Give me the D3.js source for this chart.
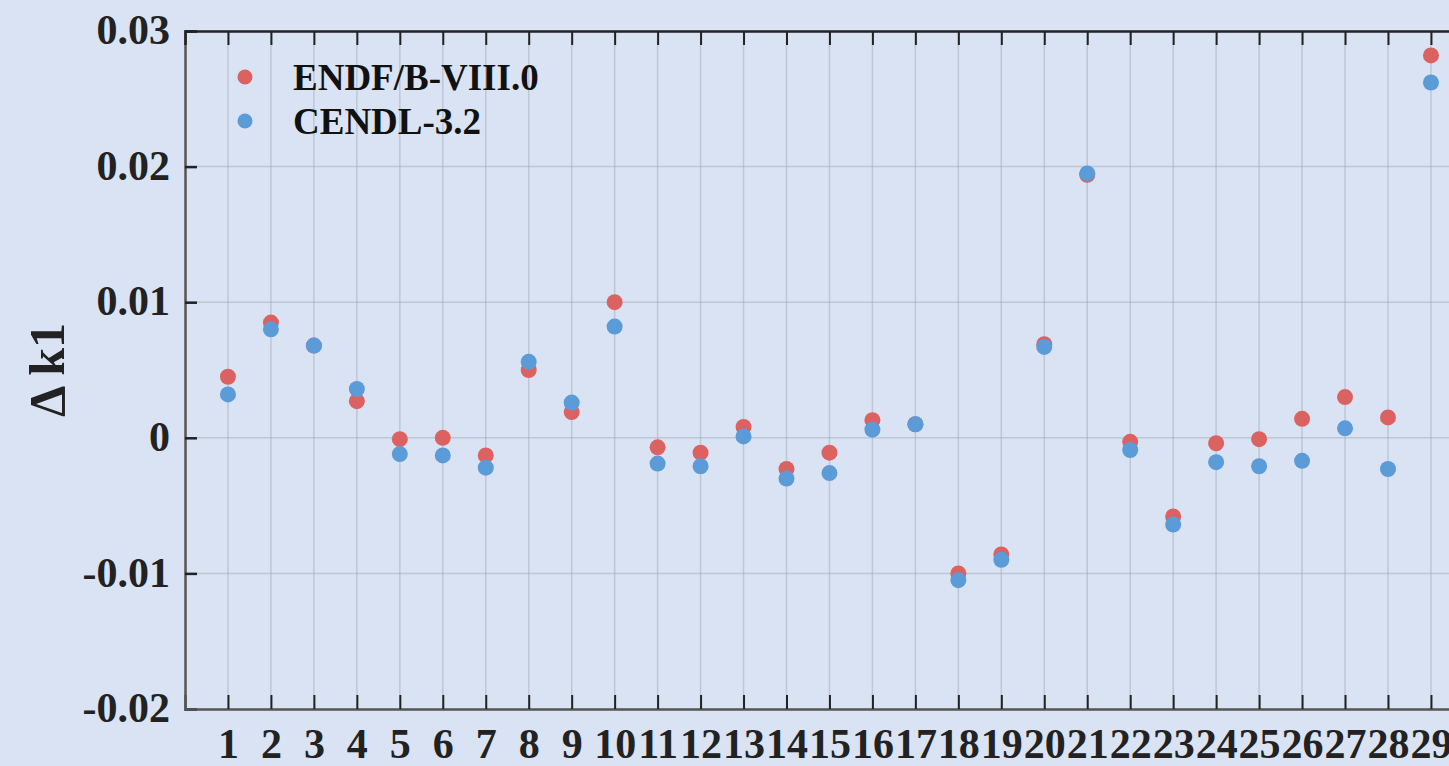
<!DOCTYPE html>
<html><head><meta charset="utf-8">
<script src="https://cdn.jsdelivr.net/npm/d3@7"></script>
<style>
html,body{margin:0;padding:0;background:#DAE3F3;overflow:hidden;}
svg{display:block;}
svg text{font-family:"Liberation Serif","Times New Roman",serif;font-weight:bold;}
</style></head><body>
<svg id="chart" width="1449" height="766"></svg>
<script>
const categories = d3.range(1, 30);
const endf = [0.0045,0.0085,0.0068,0.0027,-0.0001,0.0000,-0.0013,0.0050,0.0019,0.0100,
  -0.0007,-0.0011,0.0008,-0.0023,-0.0011,0.0013,0.0010,-0.0100,-0.0086,0.0069,
  0.0194,-0.0003,-0.0058,-0.0004,-0.0001,0.0014,0.0030,0.0015,0.0282];
const cendl = [0.0032,0.0080,0.0068,0.0036,-0.0012,-0.0013,-0.0022,0.0056,0.0026,0.0082,
  -0.0019,-0.0021,0.0001,-0.0030,-0.0026,0.0006,0.0010,-0.0105,-0.0090,0.0067,
  0.0195,-0.0009,-0.0064,-0.0018,-0.0021,-0.0017,0.0007,-0.0023,0.0262];
const yTicks = [-0.02,-0.01,0,0.01,0.02,0.03];
const yTickLabels = ["-0.02","-0.01","0","0.01","0.02","0.03"];
const seriesNames = ["ENDF/B-VIII.0","CENDL-3.2"];
const colors = ["#DC6262","#5B9BD8"];

const svg = d3.select("#chart");
const L = 185, T = 31, B = 709;
const step = 42.964;
const x = d3.scaleLinear().domain([0, 30]).range([L, L + 30*step]);
const y = d3.scaleLinear().domain([-0.02, 0.03]).range([B, T]);
const R = x(30);
const FONT = '"Liberation Serif","Times New Roman",serif';

// grid
const g = svg.append("g");
g.selectAll(".vg").data(categories).join("line")
  .attr("x1", d=>x(d)).attr("x2", d=>x(d)).attr("y1", T).attr("y2", B)
  .attr("stroke", "#9aa3b3").attr("stroke-opacity", 0.45).attr("stroke-width", 1.5);
g.selectAll(".hg").data(yTicks.slice(1,-1)).join("line")
  .attr("x1", L).attr("x2", R).attr("y1", d=>y(d)).attr("y2", d=>y(d))
  .attr("stroke", "#9aa3b3").attr("stroke-opacity", 0.45).attr("stroke-width", 1.5);

// axes
const fs = 42;
const yAxis = d3.axisLeft(y).tickValues(yTicks).tickFormat((d,i)=>yTickLabels[i]).tickSize(-12).tickPadding(15);
const ya = svg.append("g").attr("transform", `translate(${L},0)`).call(yAxis)
  .attr("font-family", FONT).attr("font-weight", "bold");
ya.select(".domain").attr("stroke", "#555").attr("stroke-width", 2.5);
ya.selectAll(".tick line").attr("stroke", "#222").attr("stroke-width", 2.5);
ya.selectAll("text").attr("font-size", fs).attr("fill", "#222").attr("dy", "0.3em");

const xAxis = d3.axisBottom(x).tickValues(categories).tickFormat(d=>d).tickSize(-14).tickPadding(28);
const xa = svg.append("g").attr("transform", `translate(0,${B})`).call(xAxis)
  .attr("font-family", FONT).attr("font-weight", "bold");
xa.select(".domain").attr("stroke", "#555").attr("stroke-width", 2.5);
xa.selectAll(".tick line").attr("stroke", "#222").attr("stroke-width", 2);
xa.selectAll("text").attr("font-size", fs).attr("fill", "#222").attr("dy", "0.5em");

const xTop = d3.axisTop(x).tickValues(categories).tickFormat("").tickSize(-14);
const xt = svg.append("g").attr("transform", `translate(0,${T})`).call(xTop);
xt.select(".domain").attr("stroke", "#222").attr("stroke-width", 2.5);
xt.selectAll(".tick line").attr("stroke", "#222").attr("stroke-width", 2);

// y label
svg.append("text").attr("transform", `translate(64,370) rotate(-90)`)
  .attr("text-anchor", "middle").attr("font-size", 50).attr("fill", "#222").text("Δ k1");

// points
const series = [endf, cendl];
series.forEach((s, si) => {
  svg.append("g").selectAll("circle").data(s).join("circle")
    .attr("cx", (d,i)=>x(categories[i])).attr("cy", d=>y(d)).attr("r", 8)
    .attr("fill", colors[si]);
});

// legend
const leg = svg.append("g");
seriesNames.forEach((n, i) => {
  leg.append("circle").attr("cx", 245).attr("cy", 77 + i*44).attr("r", 7.5).attr("fill", colors[i]);
  leg.append("text").attr("x", 293).attr("y", 77 + i*44).attr("dy", "0.35em")
    .attr("font-size", 37).attr("fill", "#111").text(n);
});
</script>
</body></html>
